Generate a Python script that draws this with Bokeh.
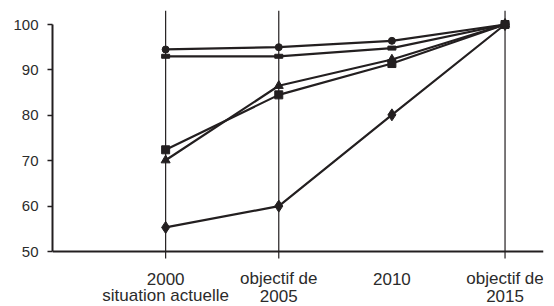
from bokeh.plotting import figure
from bokeh.models import Range1d, FixedTicker, Span
from bokeh.core.properties import value
from bokeh.embed import file_html
from bokeh.resources import INLINE

years = [2000, 2005, 2010, 2015]
label_line1 = ["2000", "objectif de", "2010", "objectif de"]
label_line2 = ["situation actuelle", "2005", "", "2015"]
grid_years = [2000, 2005, 2015]

s_circle = [94.5, 95.0, 96.4, 100.0]
s_flat = [93.0, 93.0, 94.8, 100.0]
s_triangle = [70.1, 86.5, 92.3, 100.0]
s_square = [72.4, 84.5, 91.4, 100.0]
s_diamond = [55.3, 60.0, 80.1, 100.0]

INK = "#231f20"
TXT = "#2b2b2b"

H = 306
TOP = 10
PX = 4.54                      # pixels per unit on y
Y_MAX = 100 + (24 - TOP) / PX  # 100 sits 14px below the frame top
Y_MIN = Y_MAX - (H - TOP) / PX

def below_base(px):
    return 50 - px / PX

p = figure(width=554, height=H, output_backend="svg", toolbar_location=None,
           x_range=Range1d(1995.0, 2016.7), y_range=Range1d(Y_MIN, Y_MAX),
           min_border_top=TOP, min_border_left=52, min_border_right=11, min_border_bottom=0)
p.outline_line_color = None
p.background_fill_color = "white"
p.border_fill_color = "white"
p.grid.grid_line_color = None
p.xaxis.visible = False

# y axis
p.yaxis.ticker = FixedTicker(ticks=[50, 60, 70, 80, 90, 100])
p.yaxis.bounds = (50, 100)
p.yaxis.axis_line_width = 2
p.yaxis.axis_line_color = INK
p.yaxis.major_tick_line_color = INK
p.yaxis.major_tick_line_width = 1.5
p.yaxis.major_tick_out = 5
p.yaxis.major_tick_in = 0
p.yaxis.minor_tick_line_color = None
p.yaxis.major_label_text_font = "Liberation Sans"
p.yaxis.major_label_text_font_size = "15px"
p.yaxis.major_label_text_color = TXT
p.yaxis.major_label_standoff = 9

# vertical year lines, running from the top down to just below the base line
p.segment(x0=grid_years, y0=[below_base(7)] * len(grid_years),
          x1=grid_years, y1=[Y_MAX] * len(grid_years),
          line_color=INK, line_width=1.2)

# horizontal base line at 50
p.add_layout(Span(location=50, dimension="width", line_color=INK, line_width=2.2))

# category labels below the base line
p.text(x=years, y=[below_base(27)] * len(years), text=label_line1,
       text_align="center", text_baseline="middle",
       text_font=value("Liberation Sans"), text_font_size="17px", text_color=TXT)
p.text(x=years, y=[below_base(44)] * len(years), text=label_line2,
       text_align="center", text_baseline="middle",
       text_font=value("Liberation Sans"), text_font_size="17px", text_color=TXT)

lw = 2.2
p.line(years, s_circle, line_color=INK, line_width=lw)
p.scatter(years, s_circle, marker="circle", size=7, color=INK)

p.line(years, s_flat, line_color=INK, line_width=lw)
p.rect(years, s_flat, width=8, height=4, width_units="screen", height_units="screen", color=INK)

p.line(years, s_triangle, line_color=INK, line_width=lw)
p.scatter(years, s_triangle, marker="triangle", size=9, color=INK)

p.line(years, s_square, line_color=INK, line_width=lw)
p.scatter(years, s_square, marker="square", size=8, color=INK)

p.line(years, s_diamond, line_color=INK, line_width=lw)
p.scatter(years, s_diamond, marker="diamond", size=12, color=INK)

open("out.html", "w").write(file_html(p, INLINE))
